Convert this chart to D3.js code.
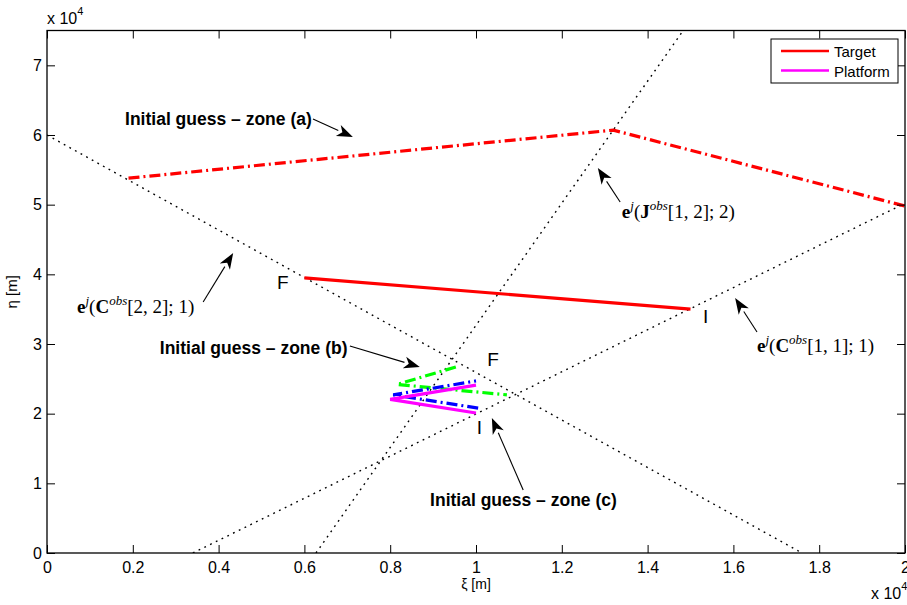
<!DOCTYPE html>
<html>
<head>
<meta charset="utf-8">
<script src="https://cdn.jsdelivr.net/npm/d3@7"></script>
<style>
  body { margin: 0; background: #fff; }
  text { font-family: "Liberation Sans", Arial, sans-serif; }
  .math { font-family: "Liberation Serif", "DejaVu Serif", serif; }
</style>
</head>
<body>
<div id="chart"></div>
<script>
// all coordinates in units of 1e4 m (as shown on the axes)
const xTicks = [0, 0.2, 0.4, 0.6, 0.8, 1, 1.2, 1.4, 1.6, 1.8, 2];
const xTickLabels = ["0", "0.2", "0.4", "0.6", "0.8", "1", "1.2", "1.4", "1.6", "1.8", "2"];
const yTicks = [0, 1, 2, 3, 4, 5, 6, 7];
const yTickLabels = ["0", "1", "2", "3", "4", "5", "6", "7"];

// dotted measurement lines
const lineC22 = [[0, 6.0], [1.76, 0]];
const lineC11 = [[0.34, 0], [2.0, 5.02]];
const lineJ12 = [[0.627, 0], [1.483, 7.5]];

// trajectories
const target = [[0.6, 3.95], [1.5, 3.5]];
const platform = [[1.0, 2.01], [0.8, 2.205], [1.0, 2.41]];
const guessA = [[0.19, 5.38], [1.32, 6.07], [2.0, 4.98]];
const guessB = [[0.953, 2.67], [0.816, 2.42], [1.072, 2.27]];
const guessC = [[1.005, 2.08], [0.807, 2.27], [1.0, 2.47]];

// text annotations [x, y, label]
const boldNotes = [
  [0.182, 6.143, "Initial guess \u2013 zone (a)"],
  [0.263, 2.856, "Initial guess \u2013 zone (b)"],
  [0.893, 0.675, "Initial guess \u2013 zone (c)"]
];
const pointNotes = [
  [0.536, 3.789, "F"], [1.529, 3.301, "I"],
  [1.026, 2.684, "F"], [1.002, 1.708, "I"]
];
// [x, y, matrix letter, indices, last arg]
const mathNotes = [
  [1.340, 4.808, "J", "[1, 2]; 2)"],
  [0.070, 3.445, "C", "[2, 2]; 1)"],
  [1.655, 2.885, "C", "[1, 1]; 1)"]
];
// arrows [tailX, tailY, tipX, tipY]
const arrows = [
  [0.620, 6.229, 0.713, 5.971],
  [0.706, 2.971, 0.869, 2.670],
  [1.110, 0.904, 1.037, 1.938],
  [1.336, 5.038, 1.284, 5.526],
  [0.364, 3.603, 0.434, 4.306],
  [1.655, 3.172, 1.604, 3.660]
];

const W = 907, H = 605;
const margin = { top: 30.5, right: 2, bottom: 52, left: 47 };
const width = W - margin.left - margin.right;
const height = H - margin.top - margin.bottom;

const svg = d3.select("#chart").append("svg")
    .attr("width", W)
    .attr("height", H);

const g = svg.append("g").attr("transform", `translate(${margin.left},${margin.top})`);

const x = d3.scaleLinear().domain([0, 2]).range([0, width]);
const y = d3.scaleLinear().domain([0, 7.5]).range([height, 0]);

const line = d3.line().x(d => x(d[0])).y(d => y(d[1]));

g.append("defs").append("clipPath").attr("id", "clip")
  .append("rect").attr("width", width).attr("height", height);

const plot = g.append("g").attr("clip-path", "url(#clip)");

// dotted lines
[lineC22, lineC11, lineJ12].forEach(l => {
    plot.append("path")
        .datum(l)
        .attr("fill", "none")
        .attr("stroke", "#000")
        .attr("stroke-width", 1.4)
        .attr("stroke-dasharray", "1.8,4.6")
        .attr("d", line);
});

const dashDot = "11,4,2,4";
plot.append("path").datum(guessA)
    .attr("fill", "none").attr("stroke", "#ff0000").attr("stroke-width", 3.2)
    .attr("stroke-dasharray", dashDot).attr("d", line);
plot.append("path").datum(guessB)
    .attr("fill", "none").attr("stroke", "#00ff00").attr("stroke-width", 3.2)
    .attr("stroke-dasharray", dashDot).attr("d", line);
plot.append("path").datum(guessC)
    .attr("fill", "none").attr("stroke", "#0000ff").attr("stroke-width", 3.2)
    .attr("stroke-dasharray", dashDot).attr("d", line);
plot.append("path").datum(target)
    .attr("fill", "none").attr("stroke", "#ff0000").attr("stroke-width", 3.2)
    .attr("d", line);
plot.append("path").datum(platform)
    .attr("fill", "none").attr("stroke", "#ff00ff").attr("stroke-width", 3.2)
    .attr("d", line);

// axes, MATLAB style: ticks pointing inward on all four sides
g.append("g")
    .attr("transform", `translate(0,${height})`)
    .call(d3.axisBottom(x).tickValues(xTicks).tickFormat((d, i) => xTickLabels[i])
        .tickSizeInner(-8).tickSizeOuter(0).tickPadding(9));
g.append("g")
    .call(d3.axisLeft(y).tickValues(yTicks).tickFormat((d, i) => yTickLabels[i])
        .tickSizeInner(-8).tickSizeOuter(0).tickPadding(5));
g.append("g")
    .call(d3.axisTop(x).tickValues(xTicks).tickFormat("").tickSizeInner(-8).tickSizeOuter(0));
g.append("g")
    .attr("transform", `translate(${width},0)`)
    .call(d3.axisRight(y).tickValues(yTicks).tickFormat("").tickSizeInner(-8).tickSizeOuter(0));

g.selectAll(".tick line").attr("stroke", "#000");
g.selectAll(".domain").attr("stroke", "none");
g.selectAll(".tick text").attr("font-size", 16).attr("fill", "#000")
    .style("font-family", "Liberation Sans, Arial, sans-serif");

g.append("rect")
    .attr("width", width).attr("height", height)
    .attr("fill", "none").attr("stroke", "#000").attr("stroke-width", 1.3);

// axis labels
svg.append("text")
    .attr("x", margin.left + width / 2).attr("y", 589)
    .attr("text-anchor", "middle").attr("font-size", 14)
    .text("\u03be [m]");
svg.append("text")
    .attr("transform", `translate(17,${margin.top + height / 2}) rotate(-90)`)
    .attr("text-anchor", "middle").attr("font-size", 15)
    .text("\u03b7 [m]");

function exponentLabel(px, py) {
    const t = svg.append("text").attr("x", px).attr("y", py).attr("font-size", 16);
    t.append("tspan").text("x 10");
    t.append("tspan").attr("font-size", 11).attr("dy", -9).text("4");
}
exponentLabel(47, 24);
exponentLabel(871, 599);

// point labels
g.selectAll(".pt-label")
    .data(pointNotes)
    .enter().append("text")
    .attr("x", d => x(d[0])).attr("y", d => y(d[1]))
    .attr("font-size", 19)
    .text(d => d[2]);

// bold annotations
g.selectAll(".note")
    .data(boldNotes)
    .enter().append("text")
    .attr("x", d => x(d[0])).attr("y", d => y(d[1]))
    .attr("font-size", 17.5).attr("font-weight", "bold")
    .text(d => d[2]);

// math labels  e^j(X^obs[..];..)
mathNotes.forEach(d => {
    const t = g.append("text").attr("class", "math")
        .attr("x", x(d[0])).attr("y", y(d[1]))
        .attr("font-size", 19);
    t.append("tspan").attr("font-weight", "bold").text("e");
    t.append("tspan").attr("font-style", "italic").attr("font-size", 13).attr("dy", -8).text("j");
    t.append("tspan").attr("dy", 8).text("(");
    t.append("tspan").attr("font-weight", "bold").text(d[2]);
    t.append("tspan").attr("font-style", "italic").attr("font-size", 13).attr("dy", -8).text("obs");
    t.append("tspan").attr("dy", 8).text(d[3]);
});

// arrows
arrows.forEach(a => {
    const x0 = x(a[0]), y0 = y(a[1]), x1 = x(a[2]), y1 = y(a[3]);
    const ang = Math.atan2(y1 - y0, x1 - x0);
    const len = 16, half = 6;
    const bx = x1 - len * Math.cos(ang), by = y1 - len * Math.sin(ang);
    g.append("line")
        .attr("x1", x0).attr("y1", y0).attr("x2", bx).attr("y2", by)
        .attr("stroke", "#000").attr("stroke-width", 1.1);
    const pts = [
        [x1, y1],
        [bx + half * Math.sin(ang), by - half * Math.cos(ang)],
        [x1 - 0.72 * len * Math.cos(ang), y1 - 0.72 * len * Math.sin(ang)],
        [bx - half * Math.sin(ang), by + half * Math.cos(ang)]
    ];
    g.append("polygon").attr("points", pts.map(p => p.join(",")).join(" ")).attr("fill", "#000");
});

// legend
const legend = svg.append("g");
legend.append("rect")
    .attr("x", 771).attr("y", 39).attr("width", 127).attr("height", 44)
    .attr("fill", "#fff").attr("stroke", "#000").attr("stroke-width", 1);
[["Target", "#ff0000"], ["Platform", "#ff00ff"]].forEach((d, i) => {
    legend.append("line")
        .attr("x1", 781).attr("x2", 829)
        .attr("y1", 51 + i * 19.5).attr("y2", 51 + i * 19.5)
        .attr("stroke", d[1]).attr("stroke-width", 2.5);
    legend.append("text")
        .attr("x", 834).attr("y", 57 + i * 19.5)
        .attr("font-size", 15).text(d[0]);
});
</script>
</body>
</html>
